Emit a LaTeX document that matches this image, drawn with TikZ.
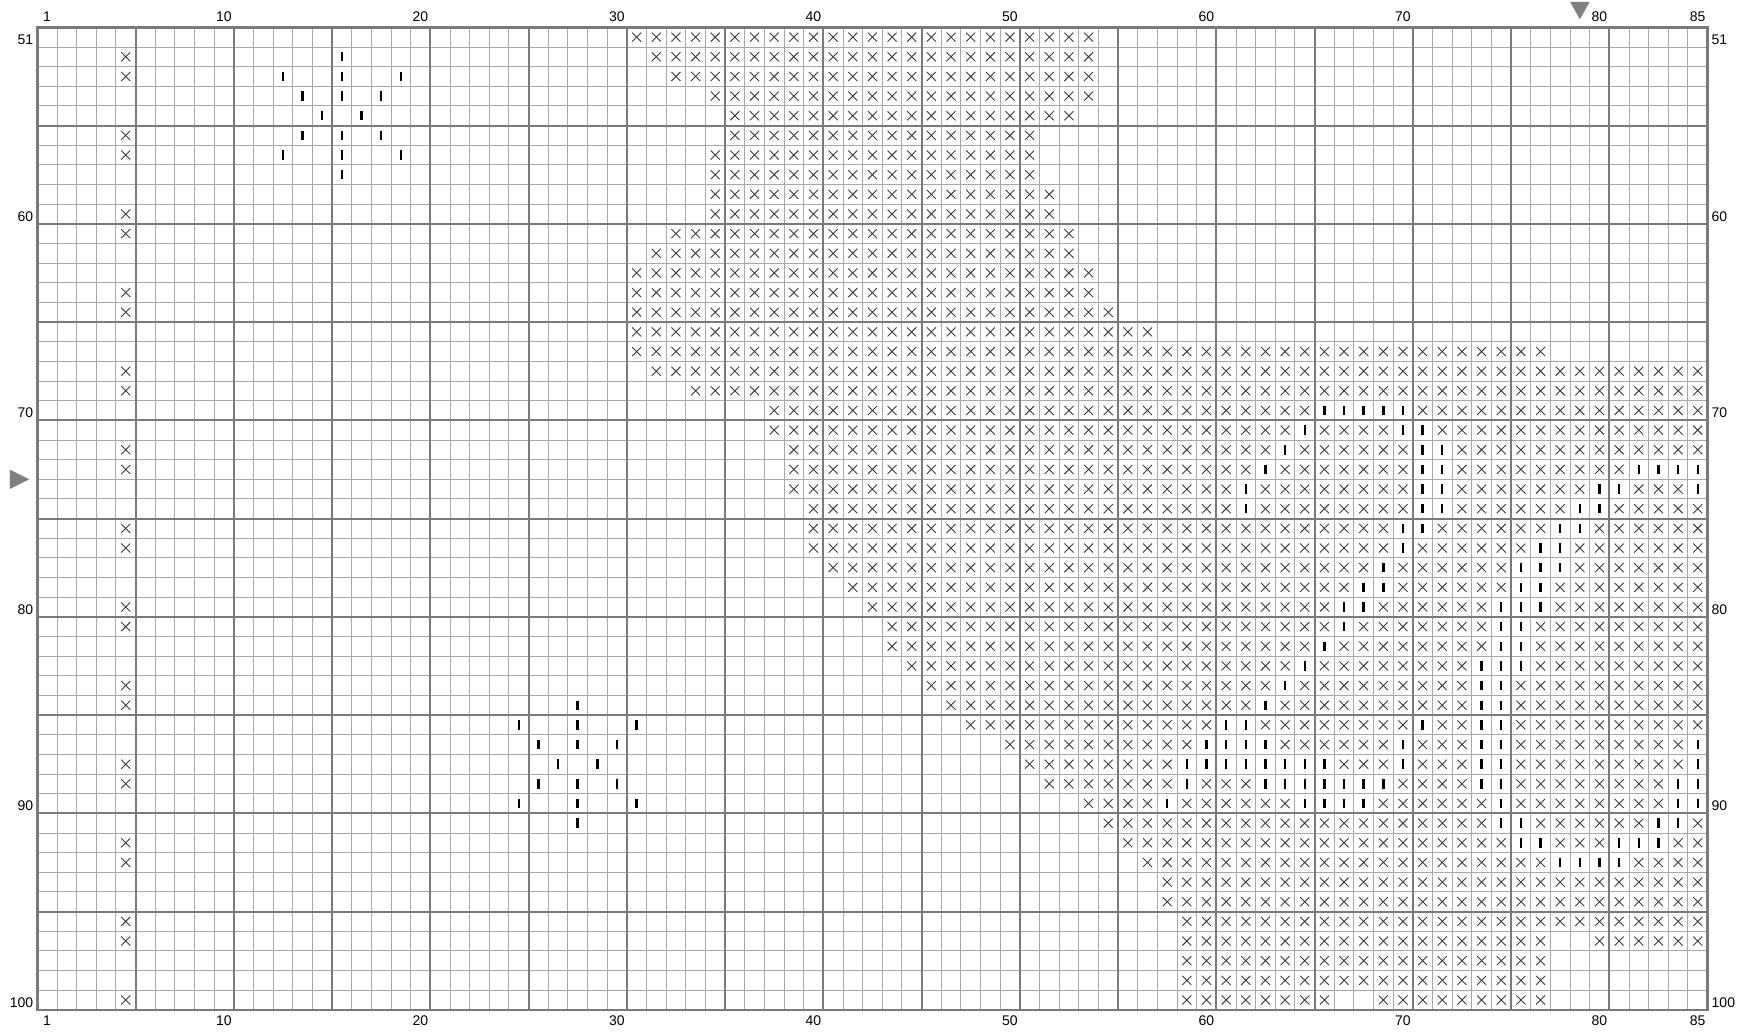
\documentclass[tikz,border=0pt]{standalone}
\usepackage{fontspec}
\setmainfont{Liberation Sans}
\definecolor{gridthin}{HTML}{A8A8A8}
\definecolor{gridthick}{HTML}{7A7A7A}
\definecolor{xmark}{HTML}{3C3C3C}
\definecolor{marker}{HTML}{808080}
\tikzset{
 thingrid/.style={draw=gridthin, line width=0.9pt},
 thickgrid/.style={draw=gridthick, line width=2pt},
 chartborder/.style={draw=gridthick, line width=2.6pt, line join=miter},
 xm/.style={draw=xmark, line width=0.9pt},
 ibar/.style={draw=black, line width=2.4pt},
 lab/.style={font=\fontsize{14}{16}\selectfont, inner sep=0pt},
 marktri/.style={fill=marker, draw=none},
}
\newcommand\stitchX[3]{\foreach \k in {#2,...,#3}{\draw[xm] (\k-0.5,#1-50.5) +(-.23,-.23) -- +(.23,.23) +(-.23,.23) -- +(.23,-.23);}}
\newcommand\stitchI[2]{\foreach \k in {#2}{\fill[white] (\k-0.5,#1-50.5) +(-.38,-.38) rectangle +(.38,.38); \draw[ibar] (\k-0.5,#1-50.5) +(0,-.24) -- +(0,.24);}}
\newcommand\barI[2]{\draw[ibar] (#1-0.5,#2-50.5) +(0,-.24) -- +(0,.24);}
\begin{document}
\begin{tikzpicture}[x=1pt,y=-1pt]
\useasboundingbox (0,0) rectangle (1747,1034);
\fill[white] (0,0) rectangle (1747,1034);
\begin{scope}[shift={(37.3,27.3)},x=19.65pt,y=-19.65pt]
% grid
\foreach \k in {1,...,84} \draw[thingrid] (\k,0) -- (\k,50);
\foreach \r in {1,...,49} \draw[thingrid] (0,\r) -- (85,\r);
\foreach \k in {5,10,...,80} \draw[thickgrid] (\k,0) -- (\k,50);
\foreach \r in {5,10,...,45} \draw[thickgrid] (0,\r) -- (85,\r);
\draw[chartborder] (0,0) rectangle (85,50);
% labels
\foreach \n in {1,10,20,30,40,50,60,70,80,85} {
  \node[lab] (top\n) at (\n-0.5,-0.54) {\n};
  \node[lab] (bot\n) at (\n-0.5,50.54) {\n};
}
\foreach \r in {51,60,70,80,90,100} {
  \node[lab,anchor=east] (left\r) at (-0.2,\r-50.5+0.12) {\r};
  \node[lab,anchor=west] (right\r) at (85.2,\r-50.5+0.12) {\r};
}
% centre markers
\fill[marktri] (78,-1.30) -- (79,-1.30) -- (78.5,-0.41) -- cycle;
\fill[marktri] (-1.39,22.51) -- (-1.39,23.49) -- (-0.41,23) -- cycle;
% column 5 border stitches
\foreach \r in {52,53,56,57,60,61,64,65,68,69,72,73,76,77,80,81,84,85,88,89,92,93,96,97,100} {\stitchX{\r}{5}{5}}
% stars
\foreach \c/\r in {16/52,13/53,16/53,19/53,14/54,16/54,18/54,15/55,17/55,14/56,16/56,18/56,13/57,16/57,19/57,16/58} {
  \barI{\c}{\r}
  \barI{\c+12}{\r+33}
}
% main motif
\stitchX{51}{31}{54}
\stitchX{52}{32}{54}
\stitchX{53}{33}{54}
\stitchX{54}{35}{54}
\stitchX{55}{36}{53}
\stitchX{56}{36}{51}
\stitchX{57}{35}{51}
\stitchX{58}{35}{51}
\stitchX{59}{35}{52}
\stitchX{60}{35}{52}
\stitchX{61}{33}{53}
\stitchX{62}{32}{53}
\stitchX{63}{31}{54}
\stitchX{64}{31}{54}
\stitchX{65}{31}{55}
\stitchX{66}{31}{57}
\stitchX{67}{31}{77}
\stitchX{68}{32}{85}
\stitchX{69}{34}{85}
\stitchX{70}{38}{85}
\stitchX{71}{38}{85}
\stitchX{72}{39}{85}
\stitchX{73}{39}{85}
\stitchX{74}{39}{85}
\stitchX{75}{40}{85}
\stitchX{76}{40}{85}
\stitchX{77}{40}{85}
\stitchX{78}{41}{85}
\stitchX{79}{42}{85}
\stitchX{80}{43}{85}
\stitchX{81}{44}{85}
\stitchX{82}{44}{85}
\stitchX{83}{45}{85}
\stitchX{84}{46}{85}
\stitchX{85}{47}{85}
\stitchX{86}{48}{85}
\stitchX{87}{50}{85}
\stitchX{88}{51}{85}
\stitchX{89}{52}{85}
\stitchX{90}{54}{85}
\stitchX{91}{55}{85}
\stitchX{92}{56}{85}
\stitchX{93}{57}{85}
\stitchX{94}{58}{85}
\stitchX{95}{58}{85}
\stitchX{96}{59}{85}
\stitchX{97}{59}{77}
\stitchX{97}{80}{85}
\stitchX{98}{59}{77}
\stitchX{99}{59}{77}
\stitchX{100}{59}{66}
\stitchX{100}{69}{77}
% vertical-bar stitches
\stitchI{70}{66,67,68,69,70}
\stitchI{71}{65,70,71}
\stitchI{72}{64,71,72}
\stitchI{73}{63,71,72,82,83,84,85}
\stitchI{74}{62,71,72,80,81,85}
\stitchI{75}{62,71,72,79,80}
\stitchI{76}{70,71,78,79}
\stitchI{77}{70,77,78}
\stitchI{78}{69,76,77,78}
\stitchI{79}{68,69,76,77}
\stitchI{80}{67,68,75,76,77}
\stitchI{81}{67,75,76}
\stitchI{82}{66,75,76}
\stitchI{83}{65,74,75,76}
\stitchI{84}{64,74,75}
\stitchI{85}{63,74,75}
\stitchI{86}{61,62,71,74,75}
\stitchI{87}{60,61,62,63,70,74,75,85}
\stitchI{88}{59,60,61,62,63,64,65,66,70,74,75,85}
\stitchI{89}{59,63,64,65,66,67,68,69,74,75,84,85}
\stitchI{90}{58,65,66,67,68,75,84,85}
\stitchI{91}{75,76,83,84}
\stitchI{92}{76,77,81,82,83}
\stitchI{93}{78,79,80,81}
\end{scope}
\end{tikzpicture}
\end{document}
